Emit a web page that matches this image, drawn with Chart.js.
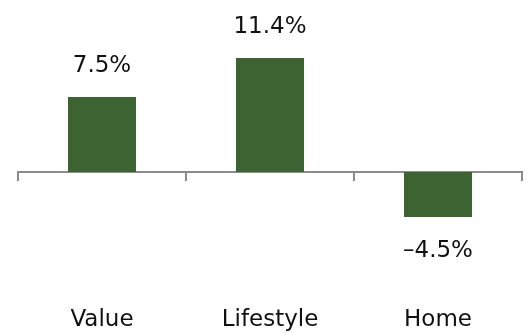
<!DOCTYPE html>
<html><head><meta charset="utf-8">
<script src="https://cdn.jsdelivr.net/npm/chart.js@4"></script>
<style>html,body{margin:0;padding:0;background:#fff}#w{width:529px;height:333px}</style>
</head><body><div id="w"><canvas id="c"></canvas></div>
<script>
const categories = ["Value", "Lifestyle", "Home"];
const values = [7.5, 11.4, -4.5];
const valueLabels = ["7.5%", "11.4%", "\u20134.5%"];

const FONT = "'DejaVu Sans', sans-serif";

const labelPlugin = {
  id: 'valLabels',
  afterDatasetsDraw(chart) {
    const ctx = chart.ctx;
    const meta = chart.getDatasetMeta(0);
    ctx.save();
    ctx.font = "23px " + FONT;
    ctx.fillStyle = "#111";
    ctx.textAlign = "center";
    ctx.textBaseline = "middle";
    meta.data.forEach((bar, i) => {
      const v = values[i];
      const y = v >= 0 ? bar.y - 31 : bar.y + 34;
      ctx.fillText(valueLabels[i], bar.x, y);
    });
    ctx.restore();
  }
};

new Chart(document.getElementById('c'), {
  type: 'bar',
  data: {
    labels: categories,
    datasets: [{
      data: values,
      backgroundColor: '#3c6331',
      categoryPercentage: 1,
      barPercentage: 0.405,
      xAxisID: 'x2'
    }]
  },
  options: {
    responsive: true,
    maintainAspectRatio: false,
    animation: false,
    layout: { padding: { left: 18, right: 7, top: 22, bottom: 0 } },
    plugins: { legend: { display: false }, tooltip: { enabled: false } },
    scales: {
      y: { display: false, min: -13, max: 15 },
      x2: {
        type: 'category',
        position: { y: 0 },
        offset: true,
        grid: { display: true, drawOnChartArea: false, offset: true, tickLength: 8, color: '#8c8c8c', lineWidth: 2 },
        border: { display: true, color: '#8c8c8c', width: 2 },
        ticks: { display: false }
      },
      x: {
        type: 'category',
        position: 'bottom',
        offset: true,
        grid: { display: false, drawTicks: false },
        border: { display: false },
        ticks: { color: '#111', font: { size: 23, family: FONT }, padding: 4 },
        afterFit(scale) { scale.height = 31; }
      }
    }
  },
  plugins: [labelPlugin]
});
</script></body></html>
